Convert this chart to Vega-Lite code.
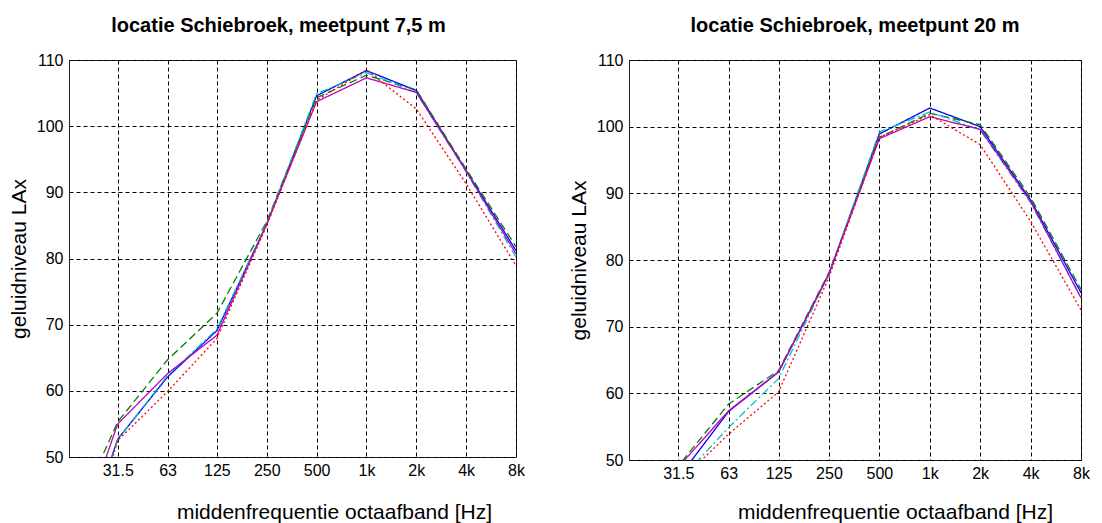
{
  "$schema": "https://vega.github.io/schema/vega-lite/v6.json",
  "background": "white",
  "padding": {"left": 7, "top": 15, "right": 5, "bottom": 0},
  "bounds": "flush",
  "spacing": 113,
  "config": {
    "font": "Liberation Sans",
    "view": {"stroke": "#222222", "strokeWidth": 1},
    "axis": {
      "grid": true,
      "gridColor": "#000000",
      "gridDash": [4, 3],
      "gridOpacity": 1,
      "gridWidth": 1,
      "domain": false,
      "ticks": false,
      "labelFontSize": 16,
      "labelColor": "#000000",
      "labelFont": "Liberation Sans",
      "titleFont": "Liberation Sans",
      "titleFontSize": 21,
      "titleFontWeight": "normal",
      "titleColor": "#000000",
      "labelOverlap": false,
      "labelFlush": false
    },
    "title": {"font": "Liberation Sans", "fontSize": 20, "fontWeight": "bold", "color": "#000000"}
  },
  "datasets": {
    "levels": [
      {"meetpunt": "7,5 m", "serie": "blauw", "freq": 16, "niveau": 31},
      {"meetpunt": "7,5 m", "serie": "blauw", "freq": 31.5, "niveau": 52.7},
      {"meetpunt": "7,5 m", "serie": "blauw", "freq": 63, "niveau": 62.1},
      {"meetpunt": "7,5 m", "serie": "blauw", "freq": 125, "niveau": 69.1},
      {"meetpunt": "7,5 m", "serie": "blauw", "freq": 250, "niveau": 85.2},
      {"meetpunt": "7,5 m", "serie": "blauw", "freq": 500, "niveau": 104.6},
      {"meetpunt": "7,5 m", "serie": "blauw", "freq": 1000, "niveau": 108.4},
      {"meetpunt": "7,5 m", "serie": "blauw", "freq": 2000, "niveau": 105.4},
      {"meetpunt": "7,5 m", "serie": "blauw", "freq": 4000, "niveau": 93.3},
      {"meetpunt": "7,5 m", "serie": "blauw", "freq": 8000, "niveau": 81.2},
      {"meetpunt": "7,5 m", "serie": "groen", "freq": 16, "niveau": 39},
      {"meetpunt": "7,5 m", "serie": "groen", "freq": 31.5, "niveau": 55.3},
      {"meetpunt": "7,5 m", "serie": "groen", "freq": 63, "niveau": 64.7},
      {"meetpunt": "7,5 m", "serie": "groen", "freq": 125, "niveau": 71.7},
      {"meetpunt": "7,5 m", "serie": "groen", "freq": 250, "niveau": 85.6},
      {"meetpunt": "7,5 m", "serie": "groen", "freq": 500, "niveau": 104.3},
      {"meetpunt": "7,5 m", "serie": "groen", "freq": 1000, "niveau": 107.7},
      {"meetpunt": "7,5 m", "serie": "groen", "freq": 2000, "niveau": 105.5},
      {"meetpunt": "7,5 m", "serie": "groen", "freq": 4000, "niveau": 93.5},
      {"meetpunt": "7,5 m", "serie": "groen", "freq": 8000, "niveau": 81.8},
      {"meetpunt": "7,5 m", "serie": "cyaan", "freq": 16, "niveau": 31},
      {"meetpunt": "7,5 m", "serie": "cyaan", "freq": 31.5, "niveau": 52.6},
      {"meetpunt": "7,5 m", "serie": "cyaan", "freq": 63, "niveau": 62.3},
      {"meetpunt": "7,5 m", "serie": "cyaan", "freq": 125, "niveau": 69.3},
      {"meetpunt": "7,5 m", "serie": "cyaan", "freq": 250, "niveau": 85.3},
      {"meetpunt": "7,5 m", "serie": "cyaan", "freq": 500, "niveau": 104.9},
      {"meetpunt": "7,5 m", "serie": "cyaan", "freq": 1000, "niveau": 108.1},
      {"meetpunt": "7,5 m", "serie": "cyaan", "freq": 2000, "niveau": 105.1},
      {"meetpunt": "7,5 m", "serie": "cyaan", "freq": 4000, "niveau": 93.1},
      {"meetpunt": "7,5 m", "serie": "cyaan", "freq": 8000, "niveau": 80.2},
      {"meetpunt": "7,5 m", "serie": "magenta", "freq": 16, "niveau": 34},
      {"meetpunt": "7,5 m", "serie": "magenta", "freq": 31.5, "niveau": 55.0},
      {"meetpunt": "7,5 m", "serie": "magenta", "freq": 63, "niveau": 62.6},
      {"meetpunt": "7,5 m", "serie": "magenta", "freq": 125, "niveau": 68.4},
      {"meetpunt": "7,5 m", "serie": "magenta", "freq": 250, "niveau": 85.2},
      {"meetpunt": "7,5 m", "serie": "magenta", "freq": 500, "niveau": 103.7},
      {"meetpunt": "7,5 m", "serie": "magenta", "freq": 1000, "niveau": 107.3},
      {"meetpunt": "7,5 m", "serie": "magenta", "freq": 2000, "niveau": 105.1},
      {"meetpunt": "7,5 m", "serie": "magenta", "freq": 4000, "niveau": 93.2},
      {"meetpunt": "7,5 m", "serie": "magenta", "freq": 8000, "niveau": 80.7},
      {"meetpunt": "7,5 m", "serie": "rood", "freq": 16, "niveau": 28},
      {"meetpunt": "7,5 m", "serie": "rood", "freq": 31.5, "niveau": 52.5},
      {"meetpunt": "7,5 m", "serie": "rood", "freq": 63, "niveau": 59.9},
      {"meetpunt": "7,5 m", "serie": "rood", "freq": 125, "niveau": 67.9},
      {"meetpunt": "7,5 m", "serie": "rood", "freq": 250, "niveau": 85.0},
      {"meetpunt": "7,5 m", "serie": "rood", "freq": 500, "niveau": 103.9},
      {"meetpunt": "7,5 m", "serie": "rood", "freq": 1000, "niveau": 108.5},
      {"meetpunt": "7,5 m", "serie": "rood", "freq": 2000, "niveau": 102.6},
      {"meetpunt": "7,5 m", "serie": "rood", "freq": 4000, "niveau": 91.3},
      {"meetpunt": "7,5 m", "serie": "rood", "freq": 8000, "niveau": 78.9},
      {"meetpunt": "20 m", "serie": "blauw", "freq": 16, "niveau": 37},
      {"meetpunt": "20 m", "serie": "blauw", "freq": 31.5, "niveau": 47.3},
      {"meetpunt": "20 m", "serie": "blauw", "freq": 63, "niveau": 57.3},
      {"meetpunt": "20 m", "serie": "blauw", "freq": 125, "niveau": 63.2},
      {"meetpunt": "20 m", "serie": "blauw", "freq": 250, "niveau": 77.9},
      {"meetpunt": "20 m", "serie": "blauw", "freq": 500, "niveau": 98.9},
      {"meetpunt": "20 m", "serie": "blauw", "freq": 1000, "niveau": 102.8},
      {"meetpunt": "20 m", "serie": "blauw", "freq": 2000, "niveau": 100.0},
      {"meetpunt": "20 m", "serie": "blauw", "freq": 4000, "niveau": 89.0},
      {"meetpunt": "20 m", "serie": "blauw", "freq": 8000, "niveau": 75.1},
      {"meetpunt": "20 m", "serie": "groen", "freq": 16, "niveau": 40},
      {"meetpunt": "20 m", "serie": "groen", "freq": 31.5, "niveau": 49.1},
      {"meetpunt": "20 m", "serie": "groen", "freq": 63, "niveau": 58.4},
      {"meetpunt": "20 m", "serie": "groen", "freq": 125, "niveau": 63.4},
      {"meetpunt": "20 m", "serie": "groen", "freq": 250, "niveau": 78.1},
      {"meetpunt": "20 m", "serie": "groen", "freq": 500, "niveau": 98.4},
      {"meetpunt": "20 m", "serie": "groen", "freq": 1000, "niveau": 102.0},
      {"meetpunt": "20 m", "serie": "groen", "freq": 2000, "niveau": 100.3},
      {"meetpunt": "20 m", "serie": "groen", "freq": 4000, "niveau": 89.4},
      {"meetpunt": "20 m", "serie": "groen", "freq": 8000, "niveau": 75.6},
      {"meetpunt": "20 m", "serie": "cyaan", "freq": 16, "niveau": 36},
      {"meetpunt": "20 m", "serie": "cyaan", "freq": 31.5, "niveau": 46.7},
      {"meetpunt": "20 m", "serie": "cyaan", "freq": 63, "niveau": 54.9},
      {"meetpunt": "20 m", "serie": "cyaan", "freq": 125, "niveau": 62.2},
      {"meetpunt": "20 m", "serie": "cyaan", "freq": 250, "niveau": 77.9},
      {"meetpunt": "20 m", "serie": "cyaan", "freq": 500, "niveau": 99.2},
      {"meetpunt": "20 m", "serie": "cyaan", "freq": 1000, "niveau": 102.2},
      {"meetpunt": "20 m", "serie": "cyaan", "freq": 2000, "niveau": 99.5},
      {"meetpunt": "20 m", "serie": "cyaan", "freq": 4000, "niveau": 88.6},
      {"meetpunt": "20 m", "serie": "cyaan", "freq": 8000, "niveau": 74.4},
      {"meetpunt": "20 m", "serie": "magenta", "freq": 16, "niveau": 39},
      {"meetpunt": "20 m", "serie": "magenta", "freq": 31.5, "niveau": 48.9},
      {"meetpunt": "20 m", "serie": "magenta", "freq": 63, "niveau": 57.4},
      {"meetpunt": "20 m", "serie": "magenta", "freq": 125, "niveau": 63.2},
      {"meetpunt": "20 m", "serie": "magenta", "freq": 250, "niveau": 77.9},
      {"meetpunt": "20 m", "serie": "magenta", "freq": 500, "niveau": 98.2},
      {"meetpunt": "20 m", "serie": "magenta", "freq": 1000, "niveau": 101.5},
      {"meetpunt": "20 m", "serie": "magenta", "freq": 2000, "niveau": 99.6},
      {"meetpunt": "20 m", "serie": "magenta", "freq": 4000, "niveau": 88.8},
      {"meetpunt": "20 m", "serie": "magenta", "freq": 8000, "niveau": 74.3},
      {"meetpunt": "20 m", "serie": "rood", "freq": 16, "niveau": 36},
      {"meetpunt": "20 m", "serie": "rood", "freq": 31.5, "niveau": 46.6},
      {"meetpunt": "20 m", "serie": "rood", "freq": 63, "niveau": 53.9},
      {"meetpunt": "20 m", "serie": "rood", "freq": 125, "niveau": 60.2},
      {"meetpunt": "20 m", "serie": "rood", "freq": 250, "niveau": 77.4},
      {"meetpunt": "20 m", "serie": "rood", "freq": 500, "niveau": 98.4},
      {"meetpunt": "20 m", "serie": "rood", "freq": 1000, "niveau": 101.8},
      {"meetpunt": "20 m", "serie": "rood", "freq": 2000, "niveau": 97.3},
      {"meetpunt": "20 m", "serie": "rood", "freq": 4000, "niveau": 85.8},
      {"meetpunt": "20 m", "serie": "rood", "freq": 8000, "niveau": 72.5}
    ]
  },
  "hconcat": [
    {
      "width": 447,
      "height": 397,
      "data": {"name": "levels"},
      "transform": [{"filter": "datum.meetpunt === '7,5 m'"}],
      "title": {"text": "locatie Schiebroek, meetpunt 7,5 m", "frame": "group", "anchor": "middle", "baseline": "alphabetic", "offset": 0, "dx": -14},
      "mark": {"type": "line", "clip": true},
      "encoding": {
        "x": {
          "field": "freq", "type": "quantitative",
          "scale": {"type": "log", "domain": [16, 8000], "nice": false},
          "axis": {
            "values": [31.5, 63, 125, 250, 500, 1000, 2000, 4000, 8000],
            "labelExpr": "datum.value >= 1000 ? (datum.value / 1000) + 'k' : '' + datum.value",
            "labelPadding": 5,
            "title": "middenfrequentie octaafband [Hz]",
            "titleX": 265, "titleY": 61.5, "titleBaseline": "alphabetic", "titleAnchor": "middle"
          }
        },
        "y": {
          "field": "niveau", "type": "quantitative",
          "scale": {"domain": [50, 110], "nice": false, "zero": false},
          "axis": {
            "values": [50, 60, 70, 80, 90, 100, 110],
            "labelPadding": 6,
            "title": "geluidniveau LAx",
            "titleX": -44, "titleY": 198.5, "titleAngle": 270, "titleBaseline": "alphabetic", "titleAlign": "center"
          }
        },
        "color": {"field": "serie", "type": "nominal", "legend": null,
          "scale": {"domain": ["blauw", "groen", "cyaan", "magenta", "rood"], "range": ["#0000ff", "#008000", "#00bfbf", "#bf00bf", "#ff0000"]}},
        "strokeDash": {"field": "serie", "type": "nominal", "legend": null,
          "scale": {"domain": ["blauw", "groen", "cyaan", "magenta", "rood"], "range": [[1, 0], [8, 4], [8, 3, 2, 3], [1, 0], [2, 2.5]]}},
        "strokeWidth": {"field": "serie", "type": "nominal", "legend": null,
          "scale": {"domain": ["blauw", "groen", "cyaan", "magenta", "rood"], "range": [1.3, 1.3, 1.3, 1.3, 2.4]}}
      }
    },
    {
      "width": 452,
      "height": 400,
      "data": {"name": "levels"},
      "transform": [{"filter": "datum.meetpunt === '20 m'"}],
      "title": {"text": "locatie Schiebroek, meetpunt 20 m", "frame": "group", "anchor": "middle", "baseline": "alphabetic", "offset": 0, "dx": 0},
      "mark": {"type": "line", "clip": true},
      "encoding": {
        "x": {
          "field": "freq", "type": "quantitative",
          "scale": {"type": "log", "domain": [16, 8000], "nice": false},
          "axis": {
            "values": [31.5, 63, 125, 250, 500, 1000, 2000, 4000, 8000],
            "labelExpr": "datum.value >= 1000 ? (datum.value / 1000) + 'k' : '' + datum.value",
            "labelPadding": 5,
            "title": "middenfrequentie octaafband [Hz]",
            "titleX": 266, "titleY": 58.5, "titleBaseline": "alphabetic", "titleAnchor": "middle"
          }
        },
        "y": {
          "field": "niveau", "type": "quantitative",
          "scale": {"domain": [50, 110], "nice": false, "zero": false},
          "axis": {
            "values": [50, 60, 70, 80, 90, 100, 110],
            "labelPadding": 6,
            "title": "geluidniveau LAx",
            "titleX": -44, "titleY": 200, "titleAngle": 270, "titleBaseline": "alphabetic", "titleAlign": "center"
          }
        },
        "color": {"field": "serie", "type": "nominal", "legend": null,
          "scale": {"domain": ["blauw", "groen", "cyaan", "magenta", "rood"], "range": ["#0000ff", "#008000", "#00bfbf", "#bf00bf", "#ff0000"]}},
        "strokeDash": {"field": "serie", "type": "nominal", "legend": null,
          "scale": {"domain": ["blauw", "groen", "cyaan", "magenta", "rood"], "range": [[1, 0], [8, 4], [8, 3, 2, 3], [1, 0], [2, 2.5]]}},
        "strokeWidth": {"field": "serie", "type": "nominal", "legend": null,
          "scale": {"domain": ["blauw", "groen", "cyaan", "magenta", "rood"], "range": [1.3, 1.3, 1.3, 1.3, 2.4]}}
      }
    }
  ]
}
